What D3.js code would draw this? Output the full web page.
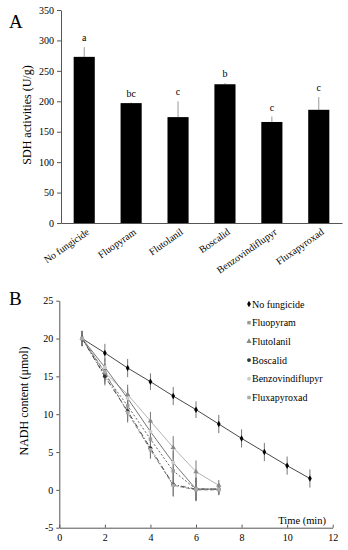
<!DOCTYPE html>
<html>
<head>
<meta charset="utf-8">
<script src="https://cdn.jsdelivr.net/npm/d3@7"></script>
<style>
  body { margin: 0; background: #fff; }
  text { font-family: "Liberation Serif", "Times New Roman", serif; }
</style>
</head>
<body>
<div id="chart"></div>
<script>
// Panel A data
const fungicides = ['No fungicide', 'Fluopyram', 'Flutolanil', 'Boscalid', 'Benzovindiflupyr', 'Fluxapyroxad']
const sdhValues = [273, 197, 174, 228, 166, 186]
const sdhErrors = [16, 1, 26, 2, 9, 21]
const sdhLetters = ['a', 'bc', 'c', 'b', 'c', 'c']
const sdhTicks = [0, 50, 100, 150, 200, 250, 300, 350]

// Panel B data
const times = [1, 2, 3, 4, 5, 6, 7, 8, 9, 10, 11]
const noFungicide = [20, 18.1, 16.1, 14.3, 12.4, 10.6, 8.7, 6.8, 5.0, 3.2, 1.5]
const fluopyram = [20, 15.2, 11.1, 6.7, 2.5, 0.1, 0.1]
const flutolanil = [20, 15.5, 12.6, 9.1, 5.6, 2.4, 0.6]
const boscalid = [20, 15.0, 10.4, 5.5, 0.7, 0.1, 0.1]
const benzovindiflupyr = [20, 16.2, 12.1, 7.7, 3.6, 0.1, 0.1]
const fluxapyroxad = [20, 15.6, 10.2, 5.3, 0.6, 0.0, 0.0]
const errNoFungicide = [1, 1.2, 1.2, 1.1, 1.2, 1.1, 1.2, 1.2, 1.2, 1.2, 1.2]
const errOthers = [1, 1.2, 1.3, 1.2, 1.5, 1.5, 0.7]
const nadhTicks = [-5, 0, 5, 10, 15, 20, 25]
const timeTicks = [0, 2, 4, 6, 8, 10, 12]

const width = 348, height = 550

let svg = d3.select('#chart')
  .append('svg')
  .attr('width', width)
  .attr('height', height)

// ---------- Panel A ----------
const xA = d3.scaleBand()
  .domain(fungicides)
  .range([61, 342])
  .paddingInner(0.55)
  .paddingOuter(0.27)

const yA = d3.scaleLinear()
  .domain([0, 350])
  .range([223, 10])

svg.append('text')
  .attr('x', 9).attr('y', 28)
  .style('font-size', '19px')
  .text('A')

svg.append('g')
  .attr('transform', 'translate(61,0)')
  .call(d3.axisLeft(yA).tickValues(sdhTicks).tickSize(4).tickSizeOuter(0))
  .call(g => g.selectAll('text').style('font-size', '10px').style('font-family', 'Liberation Serif'))
  .call(g => g.selectAll('path,line').attr('stroke', '#555'))

svg.append('g')
  .attr('transform', 'translate(0,223)')
  .call(d3.axisBottom(xA).tickSize(0).tickSizeOuter(0))
  .call(g => g.select('path').attr('stroke', '#555'))
  .call(g => g.selectAll('text')
    .style('font-size', '10px')
    .style('font-family', 'Liberation Serif')
    .attr('text-anchor', 'end')
    .attr('dy', 0)
    .attr('transform', 'translate(4,8) rotate(-35)'))

svg.append('g').selectAll('line')
  .data(sdhValues)
  .enter()
  .append('line')
  .attr('x1', (d, i) => xA(fungicides[i]) + xA.bandwidth() / 2)
  .attr('x2', (d, i) => xA(fungicides[i]) + xA.bandwidth() / 2)
  .attr('y1', d => yA(d))
  .attr('y2', (d, i) => yA(d + sdhErrors[i]))
  .attr('stroke', '#999')
  .attr('stroke-width', 1)

svg.append('g').selectAll('rect')
  .data(sdhValues)
  .enter()
  .append('rect')
  .attr('x', (d, i) => xA(fungicides[i]))
  .attr('y', d => yA(d))
  .attr('width', xA.bandwidth())
  .attr('height', d => yA(0) - yA(d))
  .attr('fill', '#000')

svg.append('g').selectAll('text')
  .data(sdhLetters)
  .enter()
  .append('text')
  .attr('x', (d, i) => xA(fungicides[i]) + xA.bandwidth() / 2)
  .attr('y', (d, i) => yA(sdhValues[i] + sdhErrors[i]) - 6)
  .attr('text-anchor', 'middle')
  .style('font-size', '10px')
  .text(d => d)

svg.append('text')
  .attr('transform', 'translate(31,115) rotate(-90)')
  .attr('text-anchor', 'middle')
  .style('font-size', '12px')
  .text('SDH activities (U/g)')

// ---------- Panel B ----------
const xB = d3.scaleLinear()
  .domain([0, 12])
  .range([59.3, 332.7])

const yB = d3.scaleLinear()
  .domain([-5, 25])
  .range([527.7, 300.7])

svg.append('text')
  .attr('x', 9).attr('y', 305)
  .style('font-size', '19px')
  .text('B')

svg.append('g')
  .attr('transform', 'translate(59.3,0)')
  .call(d3.axisLeft(yB).tickValues(nadhTicks).tickFormat(d => String(d)).tickSize(3).tickSizeOuter(0))
  .call(g => g.selectAll('text').style('font-size', '10px').style('font-family', 'Liberation Serif'))
  .call(g => g.selectAll('path,line').attr('stroke', '#555'))

svg.append('g')
  .attr('transform', 'translate(0,527.7)')
  .call(d3.axisBottom(xB).tickValues(timeTicks).tickSize(-3).tickSizeOuter(0).tickPadding(6))
  .call(g => g.selectAll('text').style('font-size', '10px').style('font-family', 'Liberation Serif'))
  .call(g => g.selectAll('path,line').attr('stroke', '#555'))

svg.append('text')
  .attr('x', 326).attr('y', 524)
  .attr('text-anchor', 'end')
  .style('font-size', '10.5px')
  .text('Time (min)')

svg.append('text')
  .attr('transform', 'translate(28,401) rotate(-90)')
  .attr('text-anchor', 'middle')
  .style('font-size', '12px')
  .text('NADH content (μmol)')

const series = [
  { name: 'No fungicide', values: noFungicide, errs: errNoFungicide, line: '#333', dash: null, mark: '#000', shape: d3.symbolDiamond },
  { name: 'Fluopyram', values: fluopyram, errs: errOthers, line: '#555', dash: '2,2', mark: '#999', shape: d3.symbolSquare },
  { name: 'Flutolanil', values: flutolanil, errs: errOthers, line: '#aaa', dash: null, mark: '#888', shape: d3.symbolTriangle },
  { name: 'Boscalid', values: boscalid, errs: errOthers, line: '#333', dash: '5,2,1,2', mark: '#333', shape: d3.symbolCircle },
  { name: 'Benzovindiflupyr', values: benzovindiflupyr, errs: errOthers, line: '#666', dash: null, mark: '#ccc', shape: d3.symbolCircle },
  { name: 'Fluxapyroxad', values: fluxapyroxad, errs: errOthers, line: '#777', dash: '4,2', mark: '#aaa', shape: d3.symbolSquare }
]

const line = d3.line()
  .x((d, i) => xB(times[i]))
  .y(d => yB(d))

series.forEach(s => {
  let g = svg.append('g')
  g.selectAll('line')
    .data(s.values)
    .enter()
    .append('line')
    .attr('x1', (d, i) => xB(times[i]))
    .attr('x2', (d, i) => xB(times[i]))
    .attr('y1', (d, i) => yB(d - s.errs[i]))
    .attr('y2', (d, i) => yB(d + s.errs[i]))
    .attr('stroke', '#777')
    .attr('stroke-width', 1)
})

series.forEach(s => {
  svg.append('path')
    .datum(s.values)
    .attr('d', line)
    .attr('fill', 'none')
    .attr('stroke', s.line)
    .attr('stroke-width', 0.9)
    .attr('stroke-dasharray', s.dash)
  svg.append('g').selectAll('path')
    .data(s.values)
    .enter()
    .append('path')
    .attr('transform', (d, i) => `translate(${xB(times[i])},${yB(d)})`)
    .attr('d', d3.symbol().type(s.shape).size(12))
    .attr('fill', s.mark)
})

// legend
let legend = svg.append('g').selectAll('g')
  .data(series)
  .enter()
  .append('g')
  .attr('transform', (d, i) => `translate(249,${304 + i * 18.7})`)

legend.append('path')
  .attr('d', d => d3.symbol().type(d.shape).size(12)())
  .attr('fill', d => d.mark)

legend.append('text')
  .attr('x', 3)
  .attr('y', 3.5)
  .style('font-size', '10px')
  .text(d => d.name)
</script>
</body>
</html>
